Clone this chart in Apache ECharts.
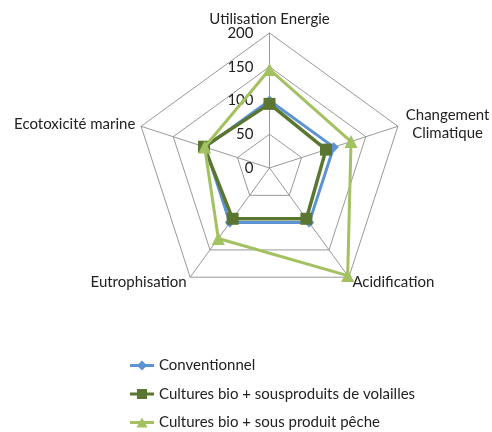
<!DOCTYPE html>
<html>
<head>
<meta charset="utf-8">
<script src="https://cdn.jsdelivr.net/npm/echarts@6/dist/echarts.min.js"></script>
<style>html,body{margin:0;padding:0;background:#fff}#c{width:492px;height:432px}</style>
</head>
<body>
<div id="c"></div>
<script>
// Indicators in counter-clockwise order starting at top
var indicators = ['Utilisation Energie', 'Ecotoxicité marine', 'Eutrophisation', 'Acidification', 'Changement\nClimatique'];
var seriesNames = ['Conventionnel', 'Cultures bio + sousproduits de volailles', 'Cultures bio + sous produit pêche'];
var conventionnel = [100, 100, 100, 100, 100];
var bioVolailles = [95, 102, 93, 93, 88];
var bioPeche = [146, 101, 129, 197, 127];
var axisMax = 200;
var axisTicks = [0, 50, 100, 150, 200];

var colors = ['#5b93d3', '#5b7631', '#a3c160'];
var fontFam = 'Lato, "Open Sans", sans-serif';

var iconDiamond = 'path://M0 3.5H24V6.5H0Z M12 0L17 5L12 10L7 5Z';
var iconSquare = 'path://M0 3.5H24V6.5H0Z M7 0H17V10H7Z';
var iconTri = 'path://M0 3.5H24V6.5H0Z M12 0L17.5 10H6.5Z';

var chart = echarts.init(document.getElementById('c'));
var values = [conventionnel, bioVolailles, bioPeche];
var symbols = ['diamond', 'rect', 'triangle'];
var symbolSizes = [10, 12, 13];
var lineWidths = [3, 3.5, 3];

chart.setOption({
  animation: false,
  backgroundColor: '#fff',
  legend: {
    orient: 'vertical',
    left: 125,
    top: 353,
    height: 100,
    itemWidth: 24,
    itemHeight: 10,
    itemGap: 13.5,
    textStyle: { fontFamily: fontFam, fontSize: 15, color: '#222' },
    data: [
      { name: seriesNames[0], icon: iconDiamond },
      { name: seriesNames[1], icon: iconSquare },
      { name: seriesNames[2], icon: iconTri }
    ]
  },
  radar: {
    center: [269.5, 168],
    radius: 135,
    startAngle: 90,
    splitNumber: 4,
    shape: 'polygon',
    nameGap: 6,
    axisName: {
      color: '#222', fontFamily: fontFam, fontSize: 15,
      formatter: function (n) {
        if (n.indexOf('\n') >= 0) {
          return n.split('\n').map(function (s) { return '{c|' + s + '}'; }).join('\n');
        }
        return n;
      },
      rich: { c: { width: 88, align: 'center', fontFamily: fontFam, fontSize: 15, lineHeight: 18, color: '#222' } }
    },
    indicator: indicators.map(function (n) { return { name: n, min: 0, max: axisMax }; }),
    axisLine: { lineStyle: { color: '#999', width: 1 } },
    splitLine: { lineStyle: { color: '#999', width: 1 } },
    splitArea: { show: false },
    axisLabel: { show: false }
  },
  polar: { center: [269.5, 168], radius: 135 },
  angleAxis: { show: false, startAngle: 90, min: 0, max: 360 },
  radiusAxis: {
    min: 0, max: axisMax, interval: 50,
    axisLine: { show: false }, axisTick: { show: false }, splitLine: { show: false },
    axisLabel: {
      color: '#222', fontFamily: fontFam, fontSize: 15, margin: 16,
      formatter: function (v) { return axisTicks.indexOf(v) >= 0 ? String(v) : ''; }
    }
  },
  series: values.map(function (vals, i) {
    return {
      type: 'radar',
      name: seriesNames[i],
      symbol: symbols[i],
      symbolSize: symbolSizes[i],
      z: 2 + i,
      itemStyle: { color: colors[i] },
      lineStyle: { color: colors[i], width: lineWidths[i] },
      data: [{ value: vals, name: seriesNames[i] }]
    };
  })
});
</script>
</body>
</html>
